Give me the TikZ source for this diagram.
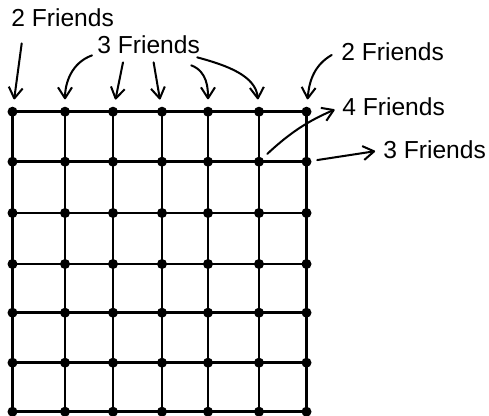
\documentclass[tikz,border=0pt]{standalone}
\usepackage{fontspec}
\setmainfont{Liberation Sans}
\usepackage{tikz}
\usetikzlibrary{arrows.meta}
\usetikzlibrary{calc}
\tikzset{
  dot/.style={circle, fill=black, inner sep=0pt, minimum size=0.2cm},
  friends/.style={anchor=west, inner sep=0pt, font=\fontsize{14}{16}\selectfont},
  pointer/.style={line width=1.15pt, line cap=round, -{Straight Barb[length=2.2mm, width=2.8mm, line join=round]}, shorten >=0.14cm},
}

\begin{document}
\begin{tikzpicture}[x=0.02cm, y=0.02cm]
\useasboundingbox (0,0) rectangle (489,415);
% lattice points
\foreach \x [count=\i from 0] in {12.5,65,113,162,208,259,306.5}
  \foreach \y [count=\j from 0] in {303.3,253.3,202,151,102.3,52.3,3.3}
    \node[dot] (d-\i-\j) at (\x,\y) {};
\foreach \k in {0,...,6} {
  \draw[line width=1.5pt] (d-0-\k.center) -- (d-6-\k.center);
  \draw[line width=1.5pt] (d-\k-0.center) -- (d-\k-6.center);
}
% labels
\node[friends] (top-left) at (11,397) {2 Friends};
\node[friends] (top-mid) at (97,370) {3 Friends};
\node[friends] (top-right) at (341,363.3) {2 Friends};
\node[friends] (side-four) at (342,308.5) {4 Friends};
\node[friends] (side-three) at (383,265) {3 Friends};
% pointers
\draw[pointer] ([shift={(10.7,-16)}]top-left.south west) -- (d-0-0);
\draw[pointer] ([shift={(-5,-1)}]top-mid.south west) to[out=200, in=90] (d-1-0);
\draw[pointer] ([shift={(26,-8)}]top-mid.south west) -- (d-2-0);
\draw[pointer] ([shift={(5,-8)}]top-mid.south) -- (d-3-0);
\draw[pointer] ([shift={(-9,-11)}]top-mid.south east) to[out=-20, in=90] (d-4-0);
\draw[pointer] ([shift={(-3,-3)}]top-mid.south east) to[out=-15, in=95] (d-5-0);
\draw[pointer] ([shift={(-9.3,-3.3)}]top-right.west) to[out=210, in=85] (d-6-0);
\draw[pointer, shorten <=0.12cm, shorten >=0.16cm] (d-5-1) to[bend left=10] (side-four.west);
\draw[pointer, shorten <=0.11cm, shorten >=0.16cm] (d-6-1) -- (side-three.west);
\end{tikzpicture}
\end{document}
